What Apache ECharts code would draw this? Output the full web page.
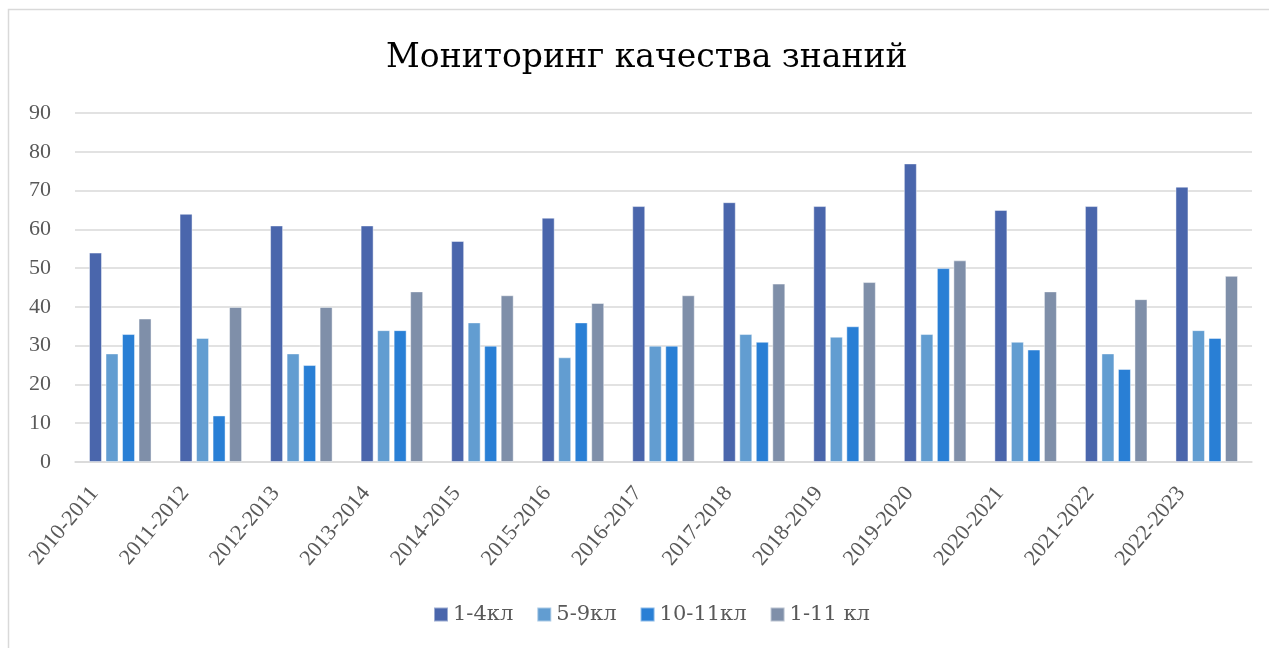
<!DOCTYPE html>
<html>
<head>
<meta charset="utf-8">
<script src="https://cdn.jsdelivr.net/npm/echarts@6/dist/echarts.min.js"></script>
<style>
html,body{margin:0;padding:0;background:#fff;}
#chart{width:1269px;height:648px;}
</style>
</head>
<body>
<div id="chart"></div>
<script>
const categories = ['2010-2011','2011-2012','2012-2013','2013-2014','2014-2015','2015-2016','2016-2017','2017-2018','2018-2019','2019-2020','2020-2021','2021-2022','2022-2023'];
const seriesNames = ['1-4кл','5-9кл','10-11кл','1-11 кл'];
const s1_4 = [54,64,61,61,57,63,66,67,66,77,65,66,71];
const s5_9 = [28,32,28,34,36,27,30,33,32.3,33,31,28,34];
const s10_11 = [33,12,25,34,30,36,30,31,35,50,29,24,32];
const s1_11 = [37,40,40,44,43,41,43,46,46.4,52,44,42,48];
const yTicks = [0,10,20,30,40,50,60,70,80,90];
const colors = ['#4A66AC','#629DD1','#297FD5','#7F8FA9'];

const chart = echarts.init(document.getElementById('chart'), null, {renderer:'canvas'});
const wideFont = '"DejaVu Serif", "Liberation Serif", serif';
const numFont = '"Liberation Serif", "DejaVu Serif", serif';
const values = [s1_4, s5_9, s10_11, s1_11];
chart.setOption({
  animation:false,
  backgroundColor:'#fff',
  color:colors,
  title:{text:'Мониторинг качества знаний', left:381, top:37,
    textStyle:{fontFamily:wideFont, fontSize:33, fontWeight:'normal', color:'#000'}},
  legend:{bottom:18, left:428, itemWidth:14, itemHeight:14, itemGap:23, icon:'rect',
    data:seriesNames,
    textStyle:{fontFamily:wideFont, fontSize:21, color:'#595959'}},
  grid:{left:75, right:17, top:113, bottom:186, containLabel:false},
  xAxis:{type:'category', data:categories,
    axisLine:{lineStyle:{color:'#d9d9d9', width:1.5}},
    axisTick:{show:false},
    axisLabel:{rotate:50, interval:0, margin:-3, fontFamily:numFont, fontSize:22, color:'#595959', padding:[0,40,0,0]}},
  yAxis:{type:'value', min:yTicks[0], max:yTicks[yTicks.length-1], interval:10,
    axisLine:{show:false}, axisTick:{show:false},
    splitLine:{lineStyle:{color:'#d9d9d9', width:1.5}},
    axisLabel:{margin:24, fontFamily:numFont, fontSize:22, color:'#595959'}},
  graphic:[{type:'rect', shape:{x:8.5, y:9.5, width:1400, height:800},
    style:{fill:'none', stroke:'#d9d9d9', lineWidth:1.5}, silent:true, z:-1}],
  series: seriesNames.map((n,i)=>({
    name:n, type:'bar', data:values[i], barWidth:13, barGap:'27%',
    itemStyle:{color:colors[i], borderColor:'rgba(255,255,255,0.45)', borderWidth:1}
  }))
});
</script>
</body>
</html>
